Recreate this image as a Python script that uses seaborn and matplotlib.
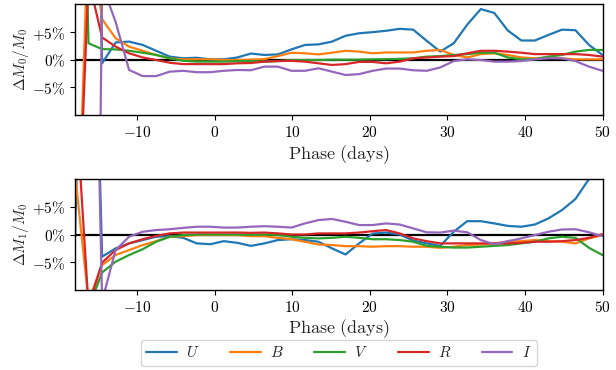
import matplotlib
matplotlib.use("Agg")
import matplotlib.pyplot as plt
import numpy as np
import pandas as pd
import seaborn as sns

# ---------------- data ----------------
phase = [-18.0, -16.26, -14.51, -12.77, -11.03, -9.28, -7.54, -5.79, -4.05, -2.31,
         -0.56, 1.18, 2.92, 4.67, 6.41, 8.15, 9.90, 11.64, 13.38, 15.13,
         16.87, 18.62, 20.36, 22.10, 23.85, 25.59, 27.33, 29.08, 30.82, 32.56,
         34.31, 36.05, 37.79, 39.54, 41.28, 43.03, 44.77, 46.51, 48.26, 50.0]

bands = [r"$U$", r"$B$", r"$V$", r"$R$", r"$I$"]

# Delta M0 / M0 (percent)
dM0_U = [100, 150, -0.66, 3.1, 3.25, 2.65, 1.6, 0.55, 0.25, 0.35,
         0.06, 0.06, 0.4, 1.1, 0.85, 0.95, 1.85, 2.65, 2.75, 3.25,
         4.3, 4.75, 4.95, 5.2, 5.55, 5.4, 3.4, 1.45, 2.95, 6.3,
         9.1, 8.4, 5.25, 3.45, 3.45, 4.45, 5.4, 5.3, 2.65, 0.85]
dM0_B = [-48, 25, 7.3, 3.85, 2.35, 1.6, 0.85, 0.25, 0.06, 0.06,
         0.06, -0.06, -0.06, 0.0, 0.1, 0.65, 1.25, 1.15, 0.95, 1.25,
         1.6, 1.45, 1.15, 1.3, 1.3, 1.3, 1.6, 1.75, 0.85, 0.4,
         1.0, 1.15, 0.85, 0.4, 0.25, 0.4, 0.25, 0.06, 0.06, 0.06]
dM0_V = [100, 2.95, 1.9, 1.85, 1.6, 1.25, 0.85, 0.25, -0.2, -0.35,
         -0.35, -0.35, -0.25, -0.25, -0.35, -0.25, -0.06, -0.06, -0.06, 0.0,
         0.0, 0.0, 0.06, 0.1, 0.15, 0.25, 0.55, 0.65, 0.85, 1.0,
         1.25, 1.25, 0.4, 0.06, 0.1, 0.55, 0.85, 1.45, 1.75, 1.75]
dM0_R = [-46, 14.4, 4.0, 2.35, 1.15, 0.4, -0.06, -0.55, -0.8, -0.8,
         -0.8, -0.8, -0.65, -0.6, -0.35, -0.25, -0.2, -0.35, -0.65, -0.95,
         -0.8, -0.4, -0.4, -0.65, -0.35, 0.25, 0.4, 0.55, 0.65, 1.15,
         1.6, 1.6, 1.45, 1.25, 1.0, 1.0, 1.0, 1.0, 0.85, 0.55]
dM0_I = [-100, -200, 13.5, 6.8, -1.85, -2.95, -2.95, -2.15, -2.0, -2.25,
         -2.25, -2.0, -1.85, -1.9, -1.25, -1.25, -2.0, -2.0, -1.55, -2.15,
         -2.75, -2.6, -2.0, -1.6, -1.6, -1.9, -2.0, -1.4, -0.25, 0.06,
         -0.06, -0.35, -0.35, -0.25, 0.06, 0.25, 0.25, -0.25, -1.25, -2.0]

# Delta M1 / M0 (percent)
dM1_U = [-0.4, 88, -4.0, -2.5, -1.6, -1.0, -0.4, -0.3, -0.6, -1.6,
         -1.75, -1.2, -1.5, -2.05, -1.6, -1.0, -0.85, -1.0, -1.3, -2.5,
         -3.6, -1.6, 0.17, 0.35, 0.0, -1.1, -1.6, -2.05, 0.5, 2.4,
         2.4, 2.0, 1.55, 1.4, 1.8, 2.9, 4.4, 6.4, 10.0, 14.0]
dM1_B = [11, -12, -5.5, -3.7, -2.8, -1.9, -1.2, -0.4, -0.3, -0.1,
         -0.1, -0.1, -0.1, -0.3, -0.3, -0.6, -0.85, -1.3, -1.8, -1.9,
         -2.1, -2.1, -2.2, -2.1, -2.1, -2.2, -2.2, -2.4, -2.2, -1.9,
         -1.8, -1.6, -1.3, -1.2, -1.0, -1.2, -1.3, -1.6, -0.7, -0.1]
dM1_V = [-14, -13.3, -6.85, -4.9, -3.7, -2.65, -1.3, -0.4, -0.1, 0.0,
         0.0, 0.0, 0.0, -0.05, 0.0, -0.1, -0.4, -0.6, -0.7, -0.6,
         -0.4, -0.6, -0.85, -0.85, -1.0, -1.3, -2.05, -2.2, -2.35, -2.35,
         -2.2, -2.05, -1.9, -1.6, -1.3, -0.7, -0.4, -0.6, -2.4, -3.7]
dM1_R = [26, -12.9, -5.05, -2.8, -1.6, -0.85, -0.25, 0.2, 0.35, 0.35,
         0.35, 0.35, 0.35, 0.3, 0.35, 0.2, 0.0, 0.0, 0.2, 0.2,
         0.2, 0.35, 0.6, 0.8, 0.2, -0.7, -1.2, -1.6, -1.6, -1.6,
         -1.6, -1.6, -1.6, -1.5, -1.3, -1.3, -1.2, -1.0, -0.6, 0.05]
dM1_I = [60, 100, -12, -2.8, -0.4, 0.5, 0.8, 0.95, 1.2, 1.4,
         1.4, 1.25, 1.25, 1.4, 1.5, 1.4, 1.25, 2.0, 2.6, 2.8,
         2.3, 1.7, 1.7, 2.0, 1.8, 1.1, 0.4, 0.35, 0.7, 0.4,
         -1.0, -1.75, -1.2, -0.7, -0.1, 0.5, 0.9, 0.95, 0.4, -0.3]

colors = ["#1f77b4", "#ff7f0e", "#2ca02c", "#d62728", "#9467bd"]

xticks = [-10, 0, 10, 20, 30, 40, 50]
xticklabels = [r"$-10$", r"$0$", r"$10$", r"$20$", r"$30$", r"$40$", r"$50$"]
yticks = [-5, 0, 5]
yticklabels = [r"$-5\%$", r"$0\%$", r"$+5\%$"]


def long_frame(series):
    rows = []
    for band, vals in zip(bands, series):
        for p, v in zip(phase, vals):
            rows.append((p, v, band))
    return pd.DataFrame(rows, columns=["phase", "value", "band"])


df0 = long_frame([dM0_U, dM0_B, dM0_V, dM0_R, dM0_I])
df1 = long_frame([dM1_U, dM1_B, dM1_V, dM1_R, dM1_I])

# ---------------- style ----------------
sns.set_style("ticks")
plt.rcParams["mathtext.fontset"] = "cm"
plt.rcParams["font.family"] = ["DejaVu Serif"]

fig = plt.figure(figsize=(6.16, 3.70), dpi=100)
ax0 = fig.add_axes([0.1218, 0.6884, 0.8563, 0.3006])
ax1 = fig.add_axes([0.1218, 0.2162, 0.8563, 0.3000])

palette = dict(zip(bands, colors))

for ax, df, ylab, leg in [(ax0, df0, r"$\Delta M_0/M_0$", False),
                          (ax1, df1, r"$\Delta M_1/M_0$", True)]:
    ax.axhline(0, color="black", lw=1.6, zorder=1)
    sns.lineplot(data=df, x="phase", y="value", hue="band", hue_order=bands,
                 palette=palette, estimator=None, sort=False, lw=1.6,
                 ax=ax, legend=leg, zorder=2)
    ax.set_xlim(-18, 50)
    ax.set_ylim(-10, 10)
    ax.set_xticks(xticks)
    ax.set_xticklabels(xticklabels, fontsize=11)
    ax.set_yticks(yticks)
    ax.set_yticklabels(yticklabels, fontsize=11)
    ax.set_xlabel(r"$\mathrm{Phase\ (days)}$", fontsize=13, labelpad=2)
    ax.set_ylabel(ylab, fontsize=11, labelpad=1)
    for s in ax.spines.values():
        s.set_color("black")
        s.set_linewidth(1.0)
    ax.tick_params(colors="black", length=3.5, width=0.8)

sns.move_legend(ax1, "upper center", bbox_to_anchor=(0.5, -0.45), ncol=5,
                title=None, frameon=True, fontsize=11, handlelength=2.0,
                handletextpad=0.6, columnspacing=2.0, borderaxespad=0.0,
                borderpad=0.35)

fig.savefig("out.png", dpi=100)
